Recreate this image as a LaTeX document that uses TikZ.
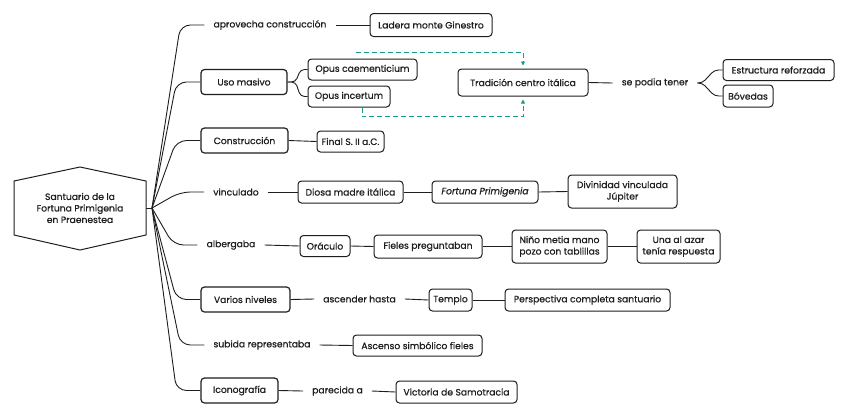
\documentclass[tikz,border=0pt]{standalone}
\usepackage{fontspec}
\setmainfont{Poppins}[UprightFeatures={FakeBold=0.6},ItalicFeatures={FakeBold=0.6}]
\usetikzlibrary{arrows.meta,calc}
\definecolor{ink}{HTML}{1E1E1E}
\definecolor{relc}{HTML}{1A9A87}
\begin{document}
\begin{tikzpicture}[x=1pt,y=-1pt,
  txt/.style={font=\fontsize{9.2}{11.5}\selectfont, text=ink},
  box/.style={txt, draw=ink, line width=1pt, rounded corners=3.5pt, inner sep=0pt, align=center},
  mainbox/.style={box, line width=1.2pt},
  lbl/.style={txt, inner xsep=9pt, inner ysep=2pt},
  conn/.style={draw=ink, line width=0.9pt},
  br/.style={conn, rounded corners=10pt},
  fk/.style={conn, rounded corners=4pt},
  rel/.style={draw=relc, line width=0.9pt, dash pattern=on 5pt off 3pt, -{Triangle[length=4pt,width=4pt]}, shorten >=3pt}
]
\useasboundingbox (0,0) rectangle (848,418);
\fill[white] (0,0) rectangle (848,418);

% root
\node[txt, align=center, minimum width=132, minimum height=83, inner sep=0pt] (root) at (80,208)
  {Santuario de la\\Fortuna Primigenia\\en Praenestea};
\draw[ink, line width=1pt] (root.center) ++(-66,-27) -- ++(66,-14) -- ++(66,14) -- ++(0,54) -- ++(-66,15) -- ++(-66,-15) -- cycle;
\coordinate (j) at (152,208);
\draw[conn] (root.east) -- (j);

% level 1
\node[lbl] (apr) at (270,25) {aprovecha construcción};
\node[mainbox, minimum width=86, minimum height=25] (uso) at (244,82) {Uso masivo};
\node[mainbox, minimum width=87, minimum height=25] (cons) at (244.5,140.5) {Construcción};
\node[lbl] (vinc) at (236,192) {vinculado};
\node[lbl] (alb) at (231,245) {albergaba};
\node[mainbox, minimum width=89, minimum height=25] (var) at (245.5,299.5) {Varios niveles};
\node[lbl] (sub) at (262,345) {subida representaba};
\node[mainbox, minimum width=77, minimum height=25] (ico) at (239.5,390.5) {Iconografía};

\foreach \t in {apr,uso,cons,vinc,alb,var,sub,ico}
  \draw[br] (j) -- ($(\t.west)+(-24,0)$) -- (\t.west);

% branch 1
\node[box, minimum width=122, minimum height=23] (lad) at (431,25) {Ladera monte Ginestro};
\draw[conn] (apr.east) -- (lad.west);

% branch 2
\node[box, minimum width=109, minimum height=21] (cae) at (362.5,69.5) {Opus caementicium};
\node[box, minimum width=82, minimum height=21] (inc) at (349,96.5) {Opus incertum};
\node[box, minimum width=130, minimum height=27] (trad) at (523,82.5) {Tradición centro itálica};
\node[lbl] (sep) at (655,83) {se podia tener};
\node[box, minimum width=111, minimum height=21] (est) at (778.5,70) {Estructura reforzada};
\node[box, minimum width=50, minimum height=22] (bov) at (748,96) {Bóvedas};
\draw[fk] (uso.east) -- ++(8,0) -- ($(cae.west)+(-7,0)$) -- (cae.west);
\draw[fk] (uso.east) -- ++(8,0) -- ($(inc.west)+(-7,0)$) -- (inc.west);
\draw[conn] (trad.east) -- (sep.west);
\draw[fk] (sep.east) -- ++(5,0) -- ($(est.west)+(-8,0)$) -- (est.west);
\draw[fk] (sep.east) -- ++(5,0) -- ($(bov.west)+(-8,0)$) -- (bov.west);
\draw[rel] ($(cae.north)+(-7,-6)$) -| (trad.north);
\draw[rel] ($(inc.south)+(13,0)$) -- ++(0,9) -| (trad.south);

% branch 3
\node[box, minimum width=67, minimum height=21] (fin) at (350.5,141.5) {Final S. II a.C.};
\draw[conn] (cons.east) -- (fin.west);

% branch 4
\node[box, minimum width=105, minimum height=22] (dio) at (350.5,192) {Diosa madre itálica};
\node[box, minimum width=106, minimum height=22] (fort) at (485,192) {\itshape Fortuna Primigenia};
\node[box, minimum width=109, minimum height=33] (div) at (622.5,191.5) {Divinidad vinculada\\Júpiter};
\draw[conn] (vinc.east) -- (dio.west);
\draw[conn] (dio.east) -- (fort.west);
\draw[conn] (fort.east) -- (div.west);

% branch 5
\node[box, minimum width=50, minimum height=21] (ora) at (325,246) {Oráculo};
\node[box, minimum width=108, minimum height=23] (fie) at (428,246.5) {Fieles preguntaban};
\node[box, minimum width=95, minimum height=33] (nin) at (559.5,246.5) {Niño metia mano\\pozo con tablillas};
\node[box, minimum width=83, minimum height=33] (una) at (678.5,246.5) {Una al azar\\tenía respuesta};
\draw[conn] (alb.east) -- (ora.west);
\draw[conn] (ora.east) -- (fie.west);
\draw[conn] (fie.east) -- (nin.west);
\draw[conn] (nin.east) -- (una.west);

% branch 6
\node[lbl] (asc) at (359.5,299) {ascender hasta};
\node[box, minimum width=43, minimum height=22] (tem) at (450.5,300) {Templo};
\node[box, minimum width=165, minimum height=22] (per) at (587.5,300) {Perspectiva completa santuario};
\draw[conn] (var.east) -- (asc.west);
\draw[conn] (asc.east) -- (tem.west);
\draw[conn] (tem.east) -- (per.west);

% branch 7
\node[box, minimum width=129, minimum height=21] (ascs) at (417.5,345.5) {Ascenso simbólico fieles};
\draw[conn] (sub.east) -- (ascs.west);

% branch 8
\node[lbl] (par) at (337.5,391) {parecida a};
\node[box, minimum width=121, minimum height=22] (vic) at (456.5,392) {Victoria de Samotracia};
\draw[conn] (ico.east) -- (par.west);
\draw[conn] (par.east) -- (vic.west);
\end{tikzpicture}
\end{document}
